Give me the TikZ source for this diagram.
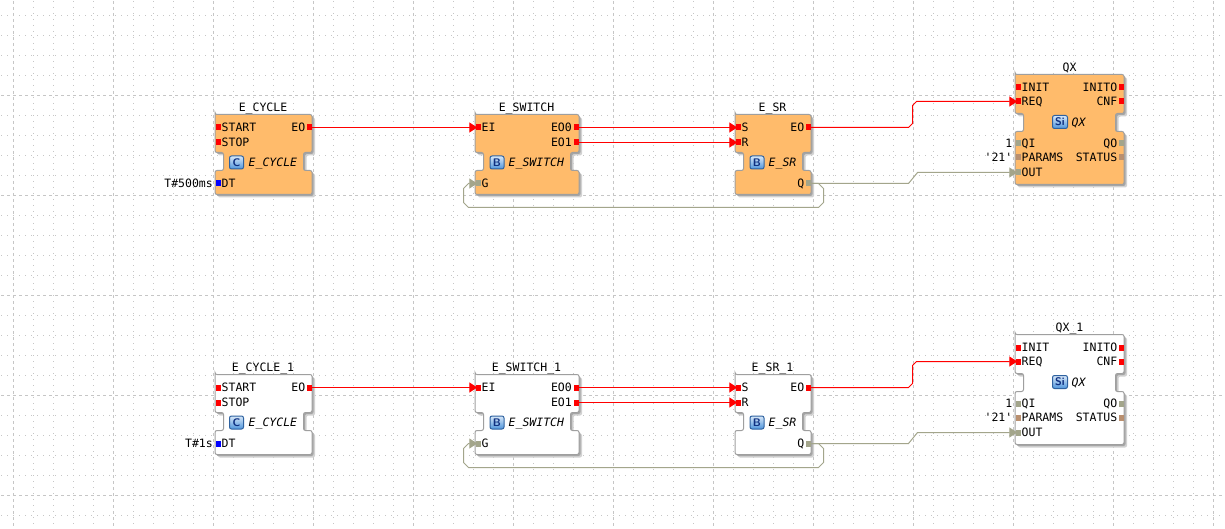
\documentclass[tikz,border=0pt]{standalone}
\usepackage{fontspec}
\setmonofont{DejaVu Sans Mono}
\usetikzlibrary{arrows.meta}
\definecolor{blockfill}{HTML}{FFBB6B}
\definecolor{dataline}{HTML}{A3A58B}
\definecolor{parport}{HTML}{B98F6F}
\definecolor{gridcol}{HTML}{C6C6C6}
\definecolor{iconedge}{HTML}{2F62A0}
\definecolor{icontop}{HTML}{D8E8F8}
\definecolor{iconbot}{HTML}{4F95DC}
\definecolor{iconink}{HTML}{0F2F80}
\tikzset{
  griddot/.style={gridcol,line width=1pt,dash pattern=on 1pt off 5pt},
  gridmaj/.style={gridcol,line width=1pt,dash pattern=on 3pt off 3pt},
  evport/.style={fill=red,draw=none,minimum width=5pt,minimum height=6pt,inner sep=0pt,anchor=center},
  dtport/.style={evport,fill=dataline},
  parportst/.style={evport,fill=parport},
  tmport/.style={evport,fill=blue},
  lbl/.style={font=\ttfamily\fontsize{11.5}{12}\selectfont,text=black,inner sep=0pt},
  lblw/.style={lbl,anchor=base west},
  lble/.style={lbl,anchor=base east},
  ttl/.style={lbl,anchor=base},
  typelbl/.style={font=\ttfamily\itshape\fontsize{11.5}{12}\selectfont,text=black,inner sep=0pt,anchor=base west},
  fbicon/.style={rounded corners=2pt,draw=iconedge,line width=1pt,top color=icontop,bottom color=iconbot,minimum width=14pt,minimum height=13pt,inner sep=0pt,text=iconink,font=\sffamily\bfseries\fontsize{11}{11}\selectfont},
  evwire/.style={red,line width=1pt},
  dtwire/.style={dataline,line width=1pt},
  intip/.style={-{Triangle[length=8pt,width=10pt]},shorten >=-2pt}
}
% x0 x1 neckL neckR top b1 b2 bottom fill
\newcommand\fbshape[9]{%
  \fill[gray!35,rounded corners=2pt,xshift=3pt,yshift=-3pt] (#1,#5) -| (#2,#6) -| (#4,#7) -| (#2,#8) -| (#1,#7) -| (#3,#6) -| (#1,#5) -- cycle;
  \fill[gray!70,rounded corners=2pt,xshift=1.5pt,yshift=-1.5pt] (#1,#5) -| (#2,#6) -| (#4,#7) -| (#2,#8) -| (#1,#7) -| (#3,#6) -| (#1,#5) -- cycle;
  \draw[gray!75,fill=#9,line width=1pt,rounded corners=2pt] (#1,#5) -| (#2,#6) -| (#4,#7) -| (#2,#8) -| (#1,#7) -| (#3,#6) -| (#1,#5) -- cycle;
}
\begin{document}
\begin{tikzpicture}[x=1pt,y=-1pt]
\useasboundingbox[fill=white] (0,0) rectangle (1225,529);
\begin{scope}[shift={(0.5,0.5)}]
% grid
\foreach \gx in {33,53,73,93,133,153,173,193,233,253,273,293,333,353,373,393,433,453,473,493,533,553,573,593,633,653,673,693,733,753,773,793,833,853,873,893,933,953,973,993,1033,1053,1073,1093,1133,1153,1173,1193}
  \draw[griddot] (\gx,0.5) -- (\gx,528);
\foreach \gy in {15,35,55,75,115,135,155,175,215,235,255,275,315,335,355,375,415,435,455,475,515}
  \draw[griddot] (0.5,\gy) -- (1221,\gy);
\foreach \gx in {13,113,213,313,413,513,613,713,813,913,1013,1113,1213}
  \draw[gridmaj] (\gx,0.5) -- (\gx,528);
\foreach \gy in {95,195,295,395,495}
  \draw[gridmaj] (0.5,\gy) -- (1221,\gy);

\foreach \rw/\dy/\fc/\sfx/\tval in {a/0/blockfill/{}/T\#500ms, b/260/white/{\_1}/T\#1s}{
\begin{scope}[yshift=-\dy pt]
  % E_CYCLE
  \fbshape{214.5}{311.5}{223}{303}{114}{152}{170}{194}{\fc}
  \node[ttl] (cyct\rw) at (262.5,111) {E\_CYCLE\sfx};
  \node[evport] (cycstart\rw) at (217.5,127) {};
  \node[evport] (cycstop\rw) at (217.5,142) {};
  \node[tmport] (cycdt\rw) at (217.5,183) {};
  \node[evport] (cyceo\rw) at (308.5,127) {};
  \node[lblw] (cycl1\rw) at (221,131) {START};
  \node[lblw] (cycl2\rw) at (221,146) {STOP};
  \node[lblw] (cycl3\rw) at (221,187) {DT};
  \node[lble] (cycl4\rw) at (305,131) {EO};
  \node[lble] (cycv\rw) at (212.5,187) {\tval};
  \node[fbicon] (cycic\rw) at (236,162) {C};
  \node[typelbl] (cycty\rw) at (248,166) {E\_CYCLE};
  % E_SWITCH
  \fbshape{474.5}{578.5}{483}{570}{114}{152}{170}{194}{\fc}
  \node[ttl] (swt\rw) at (526,111) {E\_SWITCH\sfx};
  \node[evport] (swei\rw) at (477.5,127) {};
  \node[dtport] (swg\rw) at (477.5,183) {};
  \node[evport] (sweo0\rw) at (575.5,127) {};
  \node[evport] (sweo1\rw) at (575.5,142) {};
  \node[lblw] (swl1\rw) at (481,131) {EI};
  \node[lblw] (swl2\rw) at (481,187) {G};
  \node[lble] (swl3\rw) at (571.5,131) {EO0};
  \node[lble] (swl4\rw) at (571.5,146) {EO1};
  \node[fbicon] (swic\rw) at (496.5,162) {B};
  \node[typelbl] (swty\rw) at (508,166) {E\_SWITCH};
  % E_SR
  \fbshape{734.5}{810.5}{743}{802}{114}{152}{170}{194}{\fc}
  \node[ttl] (srt\rw) at (772,111) {E\_SR\sfx};
  \node[evport] (srs\rw) at (737.5,127) {};
  \node[evport] (srr\rw) at (737.5,142) {};
  \node[evport] (sreo\rw) at (807.5,127) {};
  \node[dtport] (srq\rw) at (807.5,183) {};
  \node[lblw] (srl1\rw) at (741,131) {S};
  \node[lblw] (srl2\rw) at (741,146) {R};
  \node[lble] (srl3\rw) at (804,131) {EO};
  \node[lble] (srl4\rw) at (804,187) {Q};
  \node[fbicon] (sric\rw) at (756.5,162) {B};
  \node[typelbl] (srty\rw) at (768,166) {E\_SR};
  % QX
  \fbshape{1014.5}{1123.5}{1023}{1115}{74}{113}{131}{184}{\fc}
  \node[ttl] (qxt\rw) at (1069,71) {QX\sfx};
  \node[evport] (qxinit\rw) at (1017.5,87) {};
  \node[evport] (qxreq\rw) at (1017.5,101) {};
  \node[dtport] (qxqi\rw) at (1017.5,143) {};
  \node[parportst] (qxpar\rw) at (1017.5,157) {};
  \node[dtport] (qxout\rw) at (1017.5,172) {};
  \node[evport] (qxinito\rw) at (1120.5,87) {};
  \node[evport] (qxcnf\rw) at (1120.5,101) {};
  \node[dtport] (qxqo\rw) at (1120.5,143) {};
  \node[parportst] (qxst\rw) at (1120.5,157) {};
  \node[lblw] (qxl1\rw) at (1021,91) {INIT};
  \node[lblw] (qxl2\rw) at (1021,105) {REQ};
  \node[lblw] (qxl3\rw) at (1021,147) {QI};
  \node[lblw] (qxl4\rw) at (1021,161) {PARAMS};
  \node[lblw] (qxl5\rw) at (1021,176) {OUT};
  \node[lble] (qxl6\rw) at (1117,91) {INITO};
  \node[lble] (qxl7\rw) at (1117,105) {CNF};
  \node[lble] (qxl8\rw) at (1117,147) {QO};
  \node[lble] (qxl9\rw) at (1117,161) {STATUS};
  \node[lble] (qxv1\rw) at (1012,147) {1};
  \node[lble] (qxv2\rw) at (1012,161) {'21'};
  \node[fbicon,minimum width=15pt] (qxic\rw) at (1059.5,121.5) {Si};
  \node[typelbl] (qxty\rw) at (1071,126) {QX};
  % connectors
  \draw[evwire,intip] (cyceo\rw.east) -- (swei\rw.west);
  \draw[evwire,intip] (sweo0\rw.east) -- (srs\rw.west);
  \draw[evwire,intip] (sweo1\rw.east) -- (srr\rw.west);
  \draw[evwire,intip] (sreo\rw.east) -- (908,127) -- (912,123) -- (912,105) -- (916,101) -- (qxreq\rw.west);
  \draw[dtwire,intip] (srq\rw.east) -- (908,183) -- (917,172) -- (qxout\rw.west);
  \draw[dtwire,intip] (srq\rw.east) -- (818,183) -- (823,188) -- (823,202) -- (818,207) -- (468,207) -- (463,202) -- (463,188) -- (468,183) -- (swg\rw.west);
\end{scope}
}
\end{scope}
\end{tikzpicture}
\end{document}
